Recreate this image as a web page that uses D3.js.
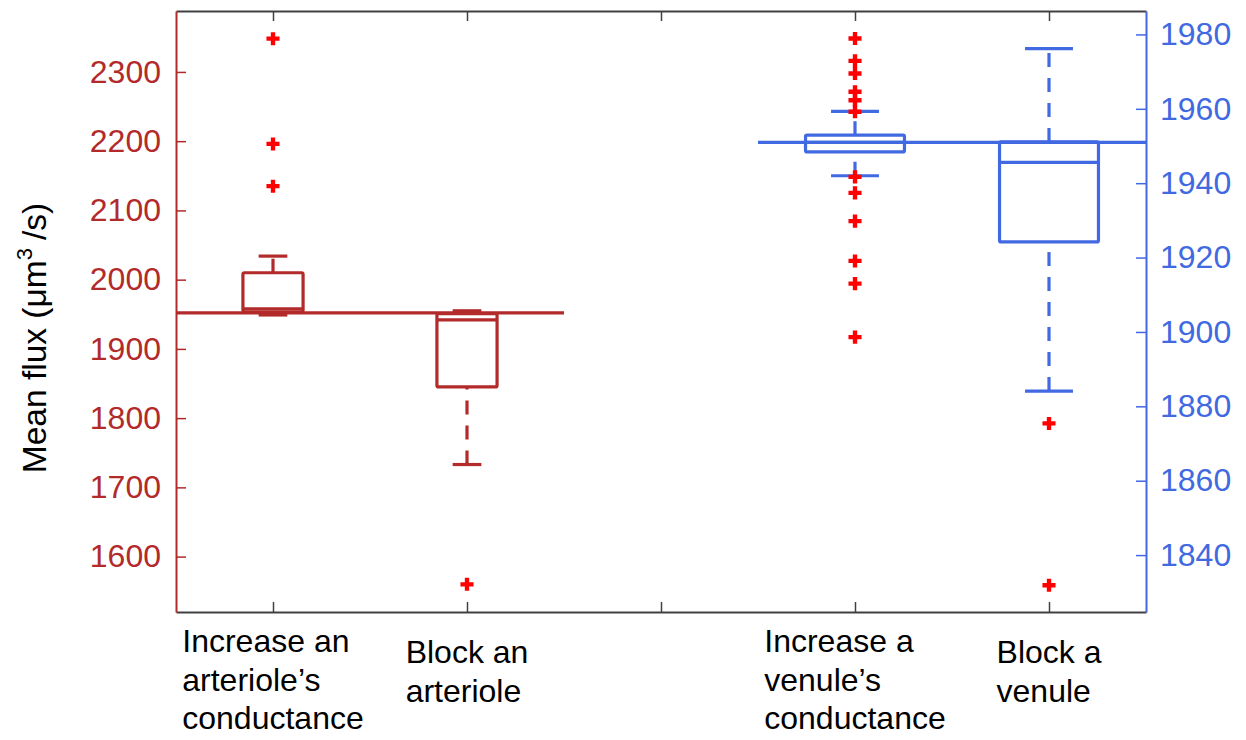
<!DOCTYPE html>
<html>
<head>
<meta charset="utf-8">
<script src="https://cdn.jsdelivr.net/npm/d3@7/dist/d3.min.js"></script>
<style>
  html, body { margin: 0; padding: 0; background: #fff; }
  svg { display: block; font-family: "Liberation Sans", Arial, sans-serif; }
</style>
</head>
<body>
<svg id="chart" width="1246" height="740"></svg>
<script>
// Category positions along x (slot 3 is a spacer between the two groups)
const categoryPositions = [1, 2, 4, 5];
const categoryLines = [
  ["Increase an", "arteriole\u2019s", "conductance"],
  ["Block an", "arteriole"],
  ["Increase a", "venule\u2019s", "conductance"],
  ["Block a", "venule"]
];
// Which y axis each box belongs to
const categoryAxis = ["left", "left", "right", "right"];

// Box statistics: lower whisker, Q1, median, Q3, upper whisker
const whiskerLow  = [1949, 1733, 1942.0, 1884.1];
const quartile1   = [1953.5, 1845, 1948.4, 1924.2];
const medians     = [1958, 1942, 1951.0, 1945.6];
const quartile3   = [2010, 1951, 1952.9, 1951.1];
const whiskerHigh = [2034, 1955, 1959.3, 1976.2];

// Outlying values per category
const outliers = [
  [2348, 2196, 2135],
  [1560],
  [1978.9, 1972.9, 1969.5, 1964.6, 1962.3, 1959.2, 1941.7, 1937.4, 1929.8, 1919.1, 1913.0, 1898.6],
  [1875.4, 1831.9]
];

// Baseline flux reference lines (one per group)
const baselineLeft = 1952;
const baselineRight = 1951;

// Axis ticks
const leftTicks = [1600, 1700, 1800, 1900, 2000, 2100, 2200, 2300];
const rightTicks = [1840, 1860, 1880, 1900, 1920, 1940, 1960, 1980];

const RED = "#b22a2a";
const BLUE = "#4169e1";
const OUT = "#ff0000";
const FRAME = "#404040";

const svg = d3.select("#chart");
const plotL = 176, plotR = 1146, plotT = 11, plotB = 612;

const x = d3.scaleLinear().domain([0.5, 5.5]).range([plotL, plotR]);
const yL = d3.scaleLinear().domain([1520, 2388]).range([plotB, plotT]);
const yR = d3.scaleLinear().domain([1824.7, 1986.3]).range([plotB, plotT]);

// Frame: top and bottom x axes with inward ticks
const gTop = svg.append("g").attr("transform", `translate(0,${plotT})`)
  .call(d3.axisTop(x).tickValues([1, 2, 3, 4, 5]).tickSizeInner(-10).tickSizeOuter(0).tickFormat(""));
const gBot = svg.append("g").attr("transform", `translate(0,${plotB})`)
  .call(d3.axisBottom(x).tickValues([1, 2, 3, 4, 5]).tickSizeInner(-10).tickSizeOuter(0).tickFormat(""));
[gTop, gBot].forEach(g => {
  g.select(".domain").attr("stroke", FRAME).attr("stroke-width", 2);
  g.selectAll(".tick line").attr("stroke", FRAME).attr("stroke-width", 1.5);
});

// Left y axis (arteriole group)
const gL = svg.append("g").attr("transform", `translate(${plotL},0)`)
  .call(d3.axisLeft(yL).tickValues(leftTicks).tickFormat(d3.format("d"))
    .tickSizeInner(-10).tickSizeOuter(0).tickPadding(15));
gL.select(".domain").attr("stroke", RED).attr("stroke-width", 2);
gL.selectAll(".tick line").attr("stroke", RED).attr("stroke-width", 1.5);
gL.selectAll(".tick text").attr("fill", RED).attr("font-size", 32)
  .attr("font-family", "Liberation Sans, Arial, sans-serif");

// Right y axis (venule group)
const gR = svg.append("g").attr("transform", `translate(${plotR},0)`)
  .call(d3.axisRight(yR).tickValues(rightTicks).tickFormat(d3.format("d"))
    .tickSizeInner(-10).tickSizeOuter(0).tickPadding(14));
gR.select(".domain").attr("stroke", BLUE).attr("stroke-width", 2);
gR.selectAll(".tick line").attr("stroke", BLUE).attr("stroke-width", 1.5);
gR.selectAll(".tick text").attr("fill", BLUE).attr("font-size", 32)
  .attr("font-family", "Liberation Sans, Arial, sans-serif");

// Y axis title
const title = svg.append("text")
  .attr("transform", `translate(46,338) rotate(-90)`)
  .attr("text-anchor", "middle")
  .attr("font-size", 33.5)
  .attr("fill", "#000");
title.append("tspan").text("Mean flux (\u03bcm");
title.append("tspan").attr("font-size", 22).attr("dy", -14).text("3");
title.append("tspan").attr("dy", 14).attr("dx", 8).text("/s)");

// Baseline reference lines
svg.append("line")
  .attr("x1", x(0.5)).attr("x2", x(2.5))
  .attr("y1", yL(baselineLeft)).attr("y2", yL(baselineLeft))
  .attr("stroke", RED).attr("stroke-width", 3.2);
svg.append("line")
  .attr("x1", x(3.5)).attr("x2", x(5.5))
  .attr("y1", yR(baselineRight)).attr("y2", yR(baselineRight))
  .attr("stroke", BLUE).attr("stroke-width", 3.2);

// Boxes
categoryPositions.forEach((pos, i) => {
  const isLeft = categoryAxis[i] === "left";
  const y = isLeft ? yL : yR;
  const col = isLeft ? RED : BLUE;
  const boxW = isLeft ? 0.31 : 0.51;
  const capW = isLeft ? 0.148 : 0.247;
  const g = svg.append("g").attr("stroke", col).attr("stroke-width", 3.2).attr("fill", "none");
  const cx = x(pos);

  // whiskers (dashed); each is traced from its lower data value upward
  g.append("line")
    .attr("x1", cx).attr("x2", cx)
    .attr("y1", y(quartile3[i])).attr("y2", y(whiskerHigh[i]))
    .attr("stroke-dasharray", "14,11");
  g.append("line")
    .attr("x1", cx).attr("x2", cx)
    .attr("y1", y(whiskerLow[i])).attr("y2", y(quartile1[i]))
    .attr("stroke-dasharray", "14,11");

  // whisker caps
  [whiskerHigh[i], whiskerLow[i]].forEach(v => {
    g.append("line")
      .attr("x1", x(pos - capW / 2)).attr("x2", x(pos + capW / 2))
      .attr("y1", y(v)).attr("y2", y(v));
  });

  // box
  g.append("rect")
    .attr("x", x(pos - boxW / 2))
    .attr("width", x(pos + boxW / 2) - x(pos - boxW / 2))
    .attr("y", y(quartile3[i]))
    .attr("height", Math.max(0, y(quartile1[i]) - y(quartile3[i])))
    .attr("rx", 1.5);

  // median
  g.append("line")
    .attr("x1", x(pos - boxW / 2)).attr("x2", x(pos + boxW / 2))
    .attr("y1", y(medians[i])).attr("y2", y(medians[i]));

  // outliers
  svg.append("g").selectAll("path")
    .data(outliers[i])
    .join("path")
    .attr("d", d3.symbol(d3.symbolCross, 95))
    .attr("transform", d => `translate(${cx},${y(d)})`)
    .attr("fill", OUT);
});

// Category labels: lines left-aligned, block centred on the tick
categoryPositions.forEach((pos, i) => {
  const lines = categoryLines[i];
  const t = svg.append("text")
    .attr("font-size", 32)
    .attr("fill", "#000");
  const firstBase = lines.length === 3 ? 652 : 663;
  lines.forEach((ln, k) => {
    t.append("tspan").attr("y", firstBase + k * 38.5).text(ln);
  });
  let maxW = 0;
  t.selectAll("tspan").each(function () {
    maxW = Math.max(maxW, this.getComputedTextLength());
  });
  t.selectAll("tspan").attr("x", x(pos) - maxW / 2);
});
</script>
</body>
</html>
